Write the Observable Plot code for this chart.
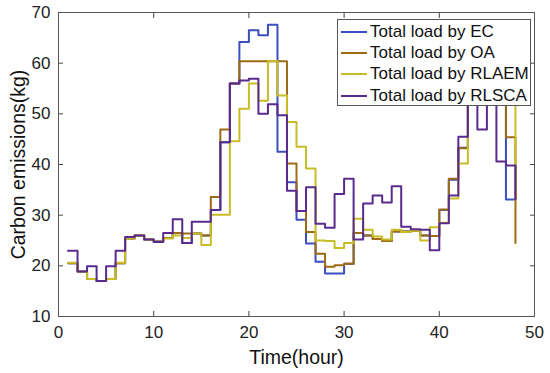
<!DOCTYPE html>
<html>
<head>
<meta charset="utf-8">
<script src="https://cdn.jsdelivr.net/npm/d3@7"></script>
<script src="https://cdn.jsdelivr.net/npm/@observablehq/plot@0.6"></script>
<style>
  html, body { margin: 0; padding: 0; background: #fff; }
  #wrap { position: relative; width: 550px; height: 373px; font-family: "Liberation Sans", Arial, sans-serif; }
  #legend { position: absolute; left: 337px; top: 19px; width: 194px; height: 87px; background: #fff; border: 1px solid #555; box-sizing: border-box; padding-top: 1px; }
  .row { display: flex; align-items: center; height: 21.4px; font-size: 17px; color: #111; white-space: nowrap; }
  .sw { width: 26px; height: 0; border-top: 2px solid; margin-left: 3px; margin-right: 3px; }
</style>
</head>
<body>
<div id="wrap"><div id="chart"></div><div id="legend"></div></div>
<script>
const hours = d3.range(1, 49);
const seriesNames = ["Total load by EC", "Total load by OA", "Total load by RLAEM", "Total load by RLSCA"];
const seriesColors = ["#3b4fbf", "#9c6b14", "#c8bd26", "#5a2b8e"];
const ec = [20.5,18.9,17.4,17.0,17.4,20.5,25.4,26.0,25.2,24.8,25.5,26.5,24.5,26.4,26.0,31.0,44.4,56.0,64.2,66.5,65.5,67.6,42.5,36.5,29.1,24.4,20.8,18.5,18.5,20.4,26.5,26.0,25.3,24.9,26.8,26.8,26.9,26.0,25.9,31.0,37.0,43.3,56,55,57,56,33.1,39.8];
const oa = [20.5,18.9,17.4,17.0,17.4,20.5,25.4,26.0,25.2,24.8,25.5,26.5,26.4,26.4,26.0,33.6,46.9,56.0,60.4,60.4,60.4,60.4,60.4,40.2,30.8,26.7,22.4,19.8,20.1,20.4,26.5,26.0,25.3,24.9,26.8,26.8,26.9,26.0,25.9,31.1,37.2,43.2,56,55,57,56,45.4,24.5];
const rlaem = [20.6,18.9,17.4,17.0,17.4,20.6,25.4,26.0,25.2,24.7,25.4,26.0,25.5,26.4,24.1,30.1,30.1,44.6,51.0,56.0,52.6,60.4,53.6,48.4,43.5,39.2,25.0,24.9,23.5,24.5,29.3,27.1,25.8,25.2,27.1,26.7,26.9,25.0,27.6,28.5,33.3,40.2,56,55,57,56,55,33.0];
const rlsca = [23.0,18.9,19.9,17.0,19.9,23.0,25.7,26.0,25.2,24.7,26.5,29.2,24.5,28.7,28.7,31.0,44.4,56.0,56.6,56.9,50.0,51.9,49.7,34.8,30.8,35.5,28.3,27.5,34.2,37.2,25.2,32.3,33.9,32.5,35.7,27.7,27.2,27.1,23.1,28.4,33.9,45.5,57,46.9,58,40.6,39.8,33.1];
const xTicks = [0, 10, 20, 30, 40, 50];
const yTicks = [10, 20, 30, 40, 50, 60, 70];
const xLabel = "Time(hour)";
const yLabel = "Carbon emissions(kg)";

const allSeries = [ec, oa, rlaem, rlsca];
const rows = [];
allSeries.forEach((vals, i) => vals.forEach((v, j) => rows.push({series: seriesNames[i], hour: hours[j], value: v})));

const lineMarks = seriesNames.map((name, i) =>
  Plot.line(rows.filter(d => d.series === name), {x: "hour", y: "value", stroke: seriesColors[i], strokeWidth: 2, curve: "step-after"})
);

const chart = Plot.plot({
  width: 550, height: 373,
  marginLeft: 58, marginRight: 16, marginTop: 12, marginBottom: 57,
  style: {fontFamily: "Liberation Sans, Arial, sans-serif", fontSize: "17px", color: "#222", background: "#fff"},
  x: {domain: [0, 50]},
  y: {domain: [10, 70]},
  marks: [
    ...lineMarks,
    Plot.axisX(xTicks, {anchor: "bottom", tickSize: 0, tickPadding: 9, label: null, fontSize: 17}),
    Plot.axisX(xTicks, {anchor: "bottom", tickSize: -5, text: null, label: null, stroke: "#444"}),
    Plot.axisX(xTicks, {anchor: "top", tickSize: -5, text: null, label: null, stroke: "#444"}),
    Plot.axisY(yTicks, {anchor: "left", tickSize: 0, tickPadding: 8, label: null, fontSize: 17}),
    Plot.axisY(yTicks, {anchor: "left", tickSize: -5, text: null, label: null, stroke: "#444"}),
    Plot.axisY(yTicks, {anchor: "right", tickSize: -5, text: null, label: null, stroke: "#444"}),
    Plot.frame({stroke: "#555"}),
    Plot.text([xLabel], {frameAnchor: "bottom", textAnchor: "middle", lineAnchor: "middle", dy: 41, fontSize: 19.5, fill: "#111"}),
    Plot.text([yLabel], {frameAnchor: "left", textAnchor: "middle", lineAnchor: "middle", dx: -40, rotate: -90, fontSize: 19.5, fill: "#111"})
  ]
});
document.getElementById("chart").appendChild(chart);

const legend = document.getElementById("legend");
seriesNames.forEach((name, i) => {
  const r = document.createElement("div");
  r.className = "row";
  const s = document.createElement("span");
  s.className = "sw";
  s.style.borderTopColor = seriesColors[i];
  const t = document.createElement("span");
  t.textContent = name;
  r.appendChild(s); r.appendChild(t);
  legend.appendChild(r);
});
</script>
</body>
</html>
